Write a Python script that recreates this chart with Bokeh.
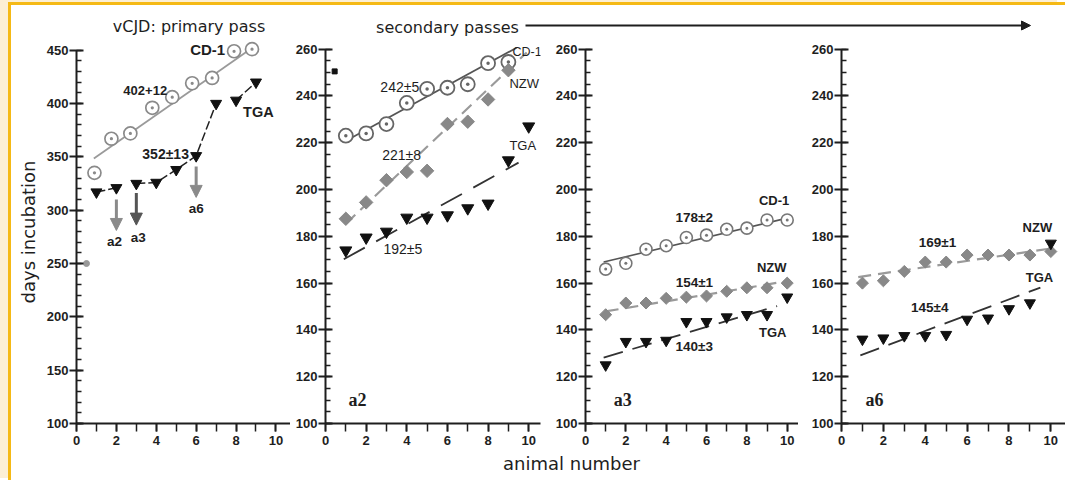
from bokeh.plotting import figure
from bokeh.layouts import column, row
from bokeh.models import Range1d, FixedTicker, Label, Arrow, NormalHead
from bokeh.embed import file_html
from bokeh.resources import INLINE

# ---------------- data ----------------
# primary pass (vCJD)
p1_cd1_x = [0.9, 1.75, 2.7, 3.8, 4.8, 5.8, 6.8, 7.9, 8.8]
p1_cd1_y = [335, 367, 372, 396, 406, 419, 424, 449, 451]
p1_cd1_fit_x = [0.87, 8.8]
p1_cd1_fit_y = [348.5, 452]
p1_tga_x = [1, 2, 3, 4, 5, 6, 7, 8, 9]
p1_tga_y = [317, 321, 325, 326, 338, 351, 400, 403, 420]
p1_tga_groups = [[0, 1], [2, 3, 4, 5, 6], [7, 8]]
p1_extra_x = [0.5]
p1_extra_y = [250]
pass_names = ["a2", "a3", "a6"]
pass_x = [2, 3, 6]
pass_y0 = [310, 316, 341]
pass_y1 = [281, 286, 312]

# secondary passes
sec_x10 = [1, 2, 3, 4, 5, 6, 7, 8, 9, 10]
sec_x9 = [1, 2, 3, 4, 5, 6, 7, 8, 9]

a2_cd1 = [223, 224, 228, 237, 243, 243.5, 245, 254, 254.5]
a2_nzw = [187.5, 194.5, 204, 207.5, 208, 228, 229, 238.5, 251]
a2_tga = [174, 179.5, 182, 188, 188, 189, 192, 194, 212.5, 227]
a2_cd1_fit = ([0.9, 9.4], [220.3, 260.6])
a2_nzw_fit = ([1.0, 9.9], [185.4, 258.6])
a2_tga_fit = ([0.9, 9.5], [170.2, 211.5])
a2_extra_x = [0.45]
a2_extra_y = [250.5]

a3_cd1 = [166, 168.5, 174.5, 176, 179.5, 180.5, 183, 183.5, 187, 187]
a3_nzw = [146.5, 151.5, 151.5, 153.5, 154, 154.5, 156.5, 158, 158, 160]
a3_tga = [125, 135, 135, 135.5, 143.5, 143.5, 145.5, 146.5, 146.5, 154]
a3_cd1_fit = ([0.9, 10.2], [169, 188.2])
a3_nzw_fit = ([1.0, 10.1], [147.9, 161])
a3_tga_fit = ([0.9, 9.5], [128.2, 150.2])

a6_nzw = [160, 161, 165, 169, 169, 172, 172, 172, 172, 173.5]
a6_tga = [136, 136.5, 137.5, 137.5, 138, 144.5, 145, 149, 151.5, 177]
a6_nzw_fit = ([0.8, 10], [162.6, 174.8])
a6_tga_fit = ([0.9, 9.5], [129.1, 158.1])

x_ticks = [0, 2, 4, 6, 8, 10]
x_minor = list(range(0, 11))
y1_ticks = list(range(100, 451, 50))
y1_minor = list(range(100, 451, 10))
y2_ticks = list(range(100, 261, 20))
y2_minor = list(range(100, 261, 5))

# ---------------- styling helpers ----------------
INK = "#1e1e1e"
TICKFONT = "Liberation Sans"
ORANGE = "#F5B915"
CREAM = "#FCEFD4"
X0, X1 = 11, 1065   # page x of content start / end
Y_TOP = 5           # page y of content start
DIAMOND_ANGLE = 0.7854


def make_panel(width, left, right, xend, yend, yticks, yminor, ybounds):
    p = figure(width=width, height=413, x_range=Range1d(0, xend), y_range=Range1d(100, yend),
               min_border_left=left, min_border_right=right, min_border_top=0, min_border_bottom=30,
               toolbar_location=None, output_backend="svg", outline_line_color=None,
               background_fill_color="white", border_fill_color="white")
    p.xgrid.visible = False
    p.ygrid.visible = False
    p.xaxis.ticker = FixedTicker(ticks=x_ticks, minor_ticks=x_minor)
    p.yaxis.ticker = FixedTicker(ticks=yticks, minor_ticks=yminor)
    p.yaxis.bounds = ybounds
    for ax in (p.xaxis[0], p.yaxis[0]):
        ax.axis_line_width = 2
        ax.axis_line_color = INK
        ax.major_tick_line_color = INK
        ax.minor_tick_line_color = INK
        ax.major_tick_line_width = 1.8
        ax.minor_tick_line_width = 1.5
        ax.major_label_text_font = TICKFONT
        ax.major_label_text_font_style = "bold"
        ax.major_label_text_font_size = "13px"
        ax.major_label_text_color = INK
    xa = p.xaxis[0]
    xa.major_tick_in = 0
    xa.major_tick_out = 8
    xa.minor_tick_in = 0
    xa.minor_tick_out = 8
    xa.major_label_standoff = 4
    ya = p.yaxis[0]
    ya.major_tick_in = 7
    ya.major_tick_out = 7
    ya.minor_tick_in = 5
    ya.minor_tick_out = 0
    ya.major_label_standoff = 1
    return p


def lab(p, x, y, text, size="13px", bold=True, align="left", font="Liberation Sans", color=INK):
    p.add_layout(Label(x=x, y=y, text=text, text_align=align, text_baseline="middle",
                       text_font=font, text_font_size=size,
                       text_font_style="bold" if bold else "normal", text_color=color))


W = X1 - X0

# ---------------- top strip ----------------
top = figure(width=W, height=40 - Y_TOP, x_range=Range1d(X0, X1), y_range=Range1d(40, Y_TOP),
             min_border=0, toolbar_location=None, output_backend="svg", outline_line_color=None,
             x_axis_location=None, y_axis_location=None)
top.grid.visible = False
top.add_layout(Label(x=188.5, y=26, text="vCJD: primary pass", text_align="center",
                     text_baseline="middle", text_font="DejaVu Sans", text_font_size="16px",
                     text_color=INK))
top.add_layout(Label(x=447, y=27, text="secondary passes", text_align="center",
                     text_baseline="middle", text_font="DejaVu Sans", text_font_size="16px",
                     text_color=INK))
top.add_layout(Arrow(x_start=525, y_start=25, x_end=1030, y_end=25, line_width=1.8, line_color=INK,
                     end=NormalHead(size=9, fill_color=INK, line_color=INK)))

# ---------------- panel 1: primary pass ----------------
f1 = make_panel(279, 65, 0, 10.73, 459.1, y1_ticks, y1_minor, (100, 450))
f1.yaxis.axis_label = "days incubation"
f1.yaxis.axis_label_text_font = "DejaVu Sans"
f1.yaxis.axis_label_text_font_size = "18px"
f1.yaxis.axis_label_text_font_style = "normal"
f1.yaxis.axis_label_text_color = INK
f1.yaxis.axis_label_standoff = 5

f1.line(p1_cd1_fit_x, p1_cd1_fit_y, line_color="#9a9a9a", line_width=1.8)
for g in p1_tga_groups:
    f1.line([p1_tga_x[i] for i in g], [p1_tga_y[i] for i in g], line_color="#222",
            line_width=1.5, line_dash="9 3")
f1.scatter(p1_cd1_x, p1_cd1_y, marker="circle_dot", size=13, line_color="#8a8a8a",
           line_width=1.7, fill_color="white")
f1.scatter(p1_tga_x, p1_tga_y, marker="inverted_triangle", size=11, line_color="#111",
           fill_color="#111")
f1.scatter(p1_extra_x, p1_extra_y, marker="circle", size=6, line_color="#999", fill_color="#999")
arrow_cols = ["#8a8a8a", "#555555", "#8a8a8a"]
label_dx = [-0.1, 0.1, 0.0]
label_y = [271, 274, 302]
for name, x, y0, y1, c, dx, ly in zip(pass_names, pass_x, pass_y0, pass_y1, arrow_cols, label_dx, label_y):
    f1.add_layout(Arrow(x_start=x, y_start=y0, x_end=x, y_end=y1, line_width=3, line_color=c,
                        end=NormalHead(size=12, fill_color=c, line_color=c)))
    lab(f1, x + dx, ly, name, size="13.5px", align="center")
lab(f1, 5.7, 451, "CD-1", size="15px")
lab(f1, 2.35, 412.5, "402+12", size="13px")
lab(f1, 3.3, 352.5, "352±13", size="14px")
lab(f1, 8.35, 392, "TGA", size="14.5px")

# ---------------- panel 2: a2 ----------------
f2 = make_panel(254, 35, 4, 10.58, 263.7, y2_ticks, y2_minor, (100, 260))
f2.line(*a2_cd1_fit, line_color="#555", line_width=1.8)
f2.line(*a2_nzw_fit, line_color="#9a9a9a", line_width=2.2, line_dash="13 7")
f2.line(*a2_tga_fit, line_color="#333", line_width=1.8, line_dash="24 13")
f2.scatter(sec_x9, a2_cd1, marker="circle_dot", size=14, line_color="#666", line_width=1.8,
           fill_color="white")
f2.scatter(sec_x9, a2_nzw, marker="square", angle=DIAMOND_ANGLE, size=9.5, line_color="#888",
           fill_color="#888")
f2.scatter(sec_x10, a2_tga, marker="inverted_triangle", size=12, line_color="#111", fill_color="#111")
f2.scatter(a2_extra_x, a2_extra_y, marker="square", size=5, line_color="#111", fill_color="#111")
lab(f2, 9.2, 258.8, "CD-1", size="12.5px", bold=False)
lab(f2, 9.05, 245.4, "NZW", size="13px", bold=False)
lab(f2, 9.05, 218.9, "TGA", size="13px", bold=False)
lab(f2, 2.7, 243.8, "242±5", size="14px", bold=False)
lab(f2, 2.79, 214.7, "221±8", size="14px", bold=False)
lab(f2, 2.85, 174.5, "192±5", size="14px", bold=False)
lab(f2, 1.13, 110, "a2", size="18px", font="Liberation Serif")

# ---------------- panel 3: a3 ----------------
f3 = make_panel(254, 41, 0, 10.56, 263.7, y2_ticks, y2_minor, (100, 260))
f3.line(*a3_cd1_fit, line_color="#555", line_width=1.6)
f3.line(*a3_nzw_fit, line_color="#9a9a9a", line_width=2.2, line_dash="13 7")
f3.line(*a3_tga_fit, line_color="#333", line_width=1.8, line_dash="20 10")
f3.scatter(sec_x10, a3_cd1, marker="circle_dot", size=12, line_color="#777", line_width=1.6,
           fill_color="white")
f3.scatter(sec_x10, a3_nzw, marker="square", angle=DIAMOND_ANGLE, size=8.5, line_color="#888",
           fill_color="#888")
f3.scatter(sec_x10, a3_tga, marker="inverted_triangle", size=11, line_color="#111", fill_color="#111")
lab(f3, 8.6, 195.1, "CD-1", size="13px")
lab(f3, 4.46, 188, "178±2", size="13.5px")
lab(f3, 8.5, 166.6, "NZW", size="13px")
lab(f3, 4.47, 160.2, "154±1", size="13.5px")
lab(f3, 8.6, 138.8, "TGA", size="13px")
lab(f3, 4.46, 133.1, "140±3", size="13.5px")
lab(f3, 1.4, 110, "a3", size="18px", font="Liberation Serif")

# ---------------- panel 4: a6 ----------------
f4 = make_panel(267, 43, 0, 10.70, 263.7, y2_ticks, y2_minor, (100, 260))
f4.line(*a6_nzw_fit, line_color="#9a9a9a", line_width=2.2, line_dash="13 7")
f4.line(*a6_tga_fit, line_color="#333", line_width=1.8, line_dash="20 10")
f4.scatter(sec_x10, a6_nzw, marker="square", angle=DIAMOND_ANGLE, size=8.5, line_color="#888",
           fill_color="#888")
f4.scatter(sec_x10, a6_tga, marker="inverted_triangle", size=11, line_color="#111", fill_color="#111")
lab(f4, 8.65, 183.7, "NZW", size="13px")
lab(f4, 3.69, 177.5, "169±1", size="13.5px")
lab(f4, 8.8, 162.3, "TGA", size="13px")
lab(f4, 3.32, 149.5, "145±4", size="13.5px")
lab(f4, 1.15, 110, "a6", size="18px", font="Liberation Serif")

# ---------------- bottom strip ----------------
bot = figure(width=W, height=27, x_range=Range1d(X0, X1), y_range=Range1d(480, 453),
             min_border=0, toolbar_location=None, output_backend="svg", outline_line_color=None,
             x_axis_location=None, y_axis_location=None)
bot.grid.visible = False
bot.add_layout(Label(x=571, y=463, text="animal number", text_align="center", text_baseline="middle",
                     text_font="DejaVu Sans", text_font_size="18px", text_color=INK))

layout = column(top, row(f1, f2, f3, f4), bot,
                styles={"border-left": "3px solid " + ORANGE, "border-top": "3px solid " + ORANGE,
                        "margin-left": "8px", "margin-top": "2px",
                        "box-shadow": "-8px -2px 0 0 " + CREAM})

open("out.html", "w").write(file_html(layout, INLINE))
